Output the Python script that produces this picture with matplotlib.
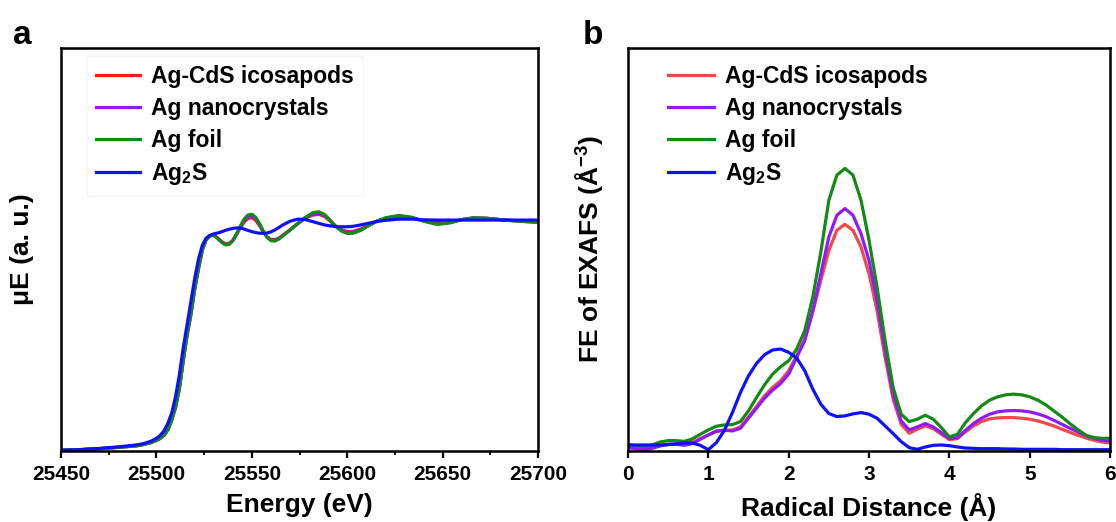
import numpy as np
import matplotlib
matplotlib.use("Agg")
import matplotlib.pyplot as plt
from matplotlib.ticker import MultipleLocator

plt.rcParams['font.family'] = ['Liberation Sans', 'DejaVu Sans']
plt.rcParams['font.weight'] = 'bold'
plt.rcParams['mathtext.fontset'] = 'custom'
plt.rcParams['mathtext.rm'] = 'Liberation Sans:bold'
plt.rcParams['mathtext.it'] = 'Liberation Sans:bold'
plt.rcParams['mathtext.bf'] = 'Liberation Sans:bold'

labels = ["Ag-CdS icosapods", "Ag nanocrystals", "Ag foil", "Ag$_2$S"]
colors_a = ["#ff1a1a", "#8f1aff", "#138a13", "#1010ff"]
colors_b = ["#f24848", "#8f1aff", "#138a13", "#1010ff"]

# panel a: XANES (normalised)
energy = [25450, 25460, 25470, 25480, 25486, 25491, 25494, 25497, 25500, 25502,
          25504, 25506, 25508, 25510, 25512, 25514, 25516, 25518, 25520, 25522,
          25524, 25526, 25528, 25530, 25532, 25534, 25536, 25538, 25540, 25542,
          25544, 25546, 25548, 25550, 25552, 25554, 25556, 25558, 25560, 25562,
          25564, 25566, 25570, 25574, 25578, 25582, 25585, 25588, 25591, 25594,
          25597, 25600, 25603, 25607, 25611, 25615, 25620, 25627, 25634, 25640,
          25647, 25654, 25660, 25666, 25673, 25680, 25690, 25700]
mu_foil = [0.003, 0.006, 0.010, 0.016, 0.020, 0.024, 0.030, 0.036, 0.046, 0.055,
           0.068, 0.092, 0.134, 0.19, 0.27, 0.39, 0.50, 0.59, 0.70, 0.79,
           0.87, 0.915, 0.932, 0.934, 0.922, 0.905, 0.893, 0.894, 0.91, 0.94,
           0.975, 1.005, 1.022, 1.025, 1.012, 0.985, 0.952, 0.925, 0.911, 0.909,
           0.917, 0.930, 0.957, 0.985, 1.012, 1.032, 1.036, 1.025, 1.000, 0.972,
           0.952, 0.942, 0.943, 0.955, 0.975, 0.993, 1.010, 1.020, 1.012, 0.995,
           0.981, 0.988, 1.002, 1.010, 1.008, 1.002, 0.995, 0.990]
mu_icosapods = [0.003, 0.006, 0.010, 0.016, 0.020, 0.024, 0.030, 0.036, 0.046, 0.055,
                0.068, 0.092, 0.134, 0.19, 0.27, 0.39, 0.50, 0.59, 0.70, 0.79,
                0.87, 0.915, 0.932, 0.934, 0.923, 0.908, 0.898, 0.899, 0.912, 0.938,
                0.967, 0.992, 1.007, 1.010, 0.999, 0.976, 0.949, 0.927, 0.916, 0.915,
                0.922, 0.933, 0.958, 0.984, 1.008, 1.022, 1.025, 1.016, 0.996, 0.973,
                0.958, 0.950, 0.951, 0.961, 0.978, 0.994, 1.007, 1.015, 1.009, 0.998,
                0.990, 0.993, 1.002, 1.008, 1.007, 1.002, 0.996, 0.992]
mu_nanocrystals = [0.003, 0.006, 0.010, 0.016, 0.020, 0.024, 0.030, 0.036, 0.046, 0.055,
                   0.068, 0.092, 0.134, 0.19, 0.27, 0.39, 0.50, 0.59, 0.70, 0.79,
                   0.87, 0.915, 0.932, 0.934, 0.922, 0.906, 0.895, 0.896, 0.911, 0.939,
                   0.971, 0.998, 1.014, 1.017, 1.005, 0.980, 0.950, 0.926, 0.913, 0.912,
                   0.919, 0.931, 0.957, 0.984, 1.010, 1.027, 1.031, 1.021, 0.998, 0.972,
                   0.955, 0.946, 0.947, 0.958, 0.976, 0.993, 1.008, 1.017, 1.010, 0.996,
                   0.985, 0.990, 1.002, 1.009, 1.008, 1.002, 0.995, 0.991]
mu_ag2s = [0.003, 0.006, 0.011, 0.018, 0.023, 0.028, 0.034, 0.042, 0.055, 0.068,
           0.088, 0.120, 0.165, 0.235, 0.33, 0.445, 0.545, 0.645, 0.745, 0.83,
           0.89, 0.922, 0.934, 0.940, 0.944, 0.949, 0.955, 0.960, 0.964, 0.966,
           0.965, 0.961, 0.955, 0.950, 0.946, 0.943, 0.943, 0.944, 0.949, 0.957,
           0.967, 0.978, 0.995, 1.004, 1.002, 0.993, 0.986, 0.979, 0.975, 0.972,
           0.971, 0.971, 0.973, 0.979, 0.986, 0.993, 0.999, 1.004, 1.004, 1.001,
           1.000, 1.000, 1.000, 1.000, 1.000, 1.000, 1.000, 1.000]

# panel b: Fourier transform magnitude of EXAFS
r = [0.0, 0.1, 0.2, 0.3, 0.4, 0.5, 0.6, 0.7, 0.8, 0.9,
     1.0, 1.1, 1.2, 1.3, 1.4, 1.5, 1.6, 1.7, 1.8, 1.9,
     2.0, 2.1, 2.2, 2.3, 2.4, 2.5, 2.6, 2.7, 2.8, 2.9,
     3.0, 3.1, 3.2, 3.3, 3.4, 3.5, 3.6, 3.7, 3.8, 3.9,
     4.0, 4.1, 4.2, 4.3, 4.4, 4.5, 4.6, 4.7, 4.8, 4.9,
     5.0, 5.1, 5.2, 5.3, 5.4, 5.5, 5.6, 5.7, 5.8, 5.9, 6.0]
ft_foil = [0.20, 0.15, 0.13, 0.18, 0.27, 0.31, 0.31, 0.29, 0.36, 0.50,
           0.63, 0.74, 0.78, 0.79, 0.88, 1.20, 1.60, 1.98, 2.30, 2.52,
           2.70, 3.05, 3.60, 4.60, 5.95, 7.50, 8.25, 8.45, 8.25, 7.50,
           6.30, 4.90, 3.30, 1.90, 1.10, 0.88, 0.95, 1.07, 0.95, 0.70,
           0.42, 0.50, 0.85, 1.12, 1.35, 1.52, 1.62, 1.68, 1.70, 1.68,
           1.62, 1.52, 1.38, 1.20, 1.02, 0.82, 0.64, 0.47, 0.40, 0.38, 0.38]
ft_nano = [0.10, 0.06, 0.04, 0.08, 0.15, 0.20, 0.20, 0.17, 0.22, 0.35,
           0.48, 0.60, 0.62, 0.60, 0.68, 0.98, 1.28, 1.58, 1.82, 2.02,
           2.30, 2.80, 3.30, 4.20, 5.30, 6.40, 7.05, 7.25, 7.05, 6.50,
           5.70, 4.50, 3.00, 1.70, 0.90, 0.63, 0.72, 0.82, 0.72, 0.55,
           0.37, 0.40, 0.62, 0.82, 0.98, 1.10, 1.17, 1.20, 1.21, 1.20,
           1.17, 1.11, 1.03, 0.92, 0.80, 0.68, 0.57, 0.46, 0.38, 0.32, 0.29]
ft_ico = [0.12, 0.08, 0.06, 0.10, 0.16, 0.20, 0.21, 0.21, 0.26, 0.37,
          0.48, 0.58, 0.62, 0.63, 0.72, 1.02, 1.33, 1.65, 1.90, 2.10,
          2.40, 2.85, 3.35, 4.15, 5.10, 6.00, 6.60, 6.78, 6.60, 6.10,
          5.30, 4.20, 2.80, 1.55, 0.80, 0.53, 0.65, 0.75, 0.67, 0.50,
          0.34, 0.37, 0.57, 0.75, 0.88, 0.96, 0.99, 1.00, 1.00, 0.98,
          0.95, 0.90, 0.83, 0.75, 0.65, 0.56, 0.47, 0.39, 0.32, 0.27, 0.24]
ft_ag2s = [0.18, 0.18, 0.18, 0.18, 0.18, 0.19, 0.21, 0.24, 0.24, 0.17,
           0.04, 0.25, 0.62, 1.15, 1.75, 2.25, 2.62, 2.88, 3.02, 3.05,
           2.95, 2.78, 2.40, 1.85, 1.40, 1.12, 1.03, 1.05, 1.11, 1.15,
           1.10, 0.98, 0.75, 0.52, 0.28, 0.10, 0.05, 0.12, 0.17, 0.18,
           0.16, 0.12, 0.09, 0.08, 0.07, 0.07, 0.07, 0.06, 0.06, 0.05,
           0.05, 0.05, 0.05, 0.05, 0.04, 0.04, 0.04, 0.04, 0.04, 0.04, 0.04]

fig = plt.figure(figsize=(11.16, 5.22), dpi=100)
ax1 = fig.add_axes([0.0547, 0.136, 0.4275, 0.772])
ax2 = fig.add_axes([0.5627, 0.136, 0.432, 0.772])

for y, c, lab in zip([mu_icosapods, mu_nanocrystals, mu_foil, mu_ag2s], colors_a, labels):
    ax1.plot(energy, y, color=c, lw=2.3, label=lab)
ax1.set_xlim(25450, 25700)
ax1.set_ylim(0, 1.745)
ax1.xaxis.set_major_locator(MultipleLocator(50))
ax1.xaxis.set_minor_locator(MultipleLocator(25))
ax1.set_yticks([])
ax1.set_xlabel("Energy (eV)", fontsize=19, fontweight='bold')
ax1.set_ylabel("μE (a. u.)", fontsize=19, fontweight='bold')
ax1.yaxis.set_label_coords(-0.057, 0.5)
ax1.xaxis.set_label_coords(0.5, -0.105)
ax1.legend(loc='upper left', bbox_to_anchor=(0.03, 1.008), fontsize=16.5,
           frameon=True, edgecolor='#f4f4f4', fancybox=False,
           handlelength=1.9, labelspacing=0.38, handletextpad=0.5)

for y, c, lab in zip([ft_ico, ft_nano, ft_foil, ft_ag2s], colors_b, labels):
    ax2.plot(r, y, color=c, lw=2.3, label=lab)
ax2.set_xlim(0, 6)
ax2.set_ylim(0, 12.05)
ax2.xaxis.set_major_locator(MultipleLocator(1))
ax2.set_yticks([])
ax2.set_xlabel("Radical Distance (Å)", fontsize=19, fontweight='bold')
ax2.set_ylabel("FE of EXAFS (Å$^{-3}$)", fontsize=19, fontweight='bold')
ax2.yaxis.set_label_coords(-0.048, 0.5)
ax2.xaxis.set_label_coords(0.5, -0.105)
ax2.legend(loc='upper left', bbox_to_anchor=(0.04, 1.008), fontsize=16.5,
           frameon=False, handlelength=2.0, labelspacing=0.38, handletextpad=0.5)

for ax in (ax1, ax2):
    for s in ax.spines.values():
        s.set_linewidth(1.8)
    ax.tick_params(axis='x', which='major', direction='out', length=5, width=1.6,
                   labelsize=15, pad=5)
    ax.tick_params(axis='x', which='minor', direction='out', length=3, width=1.3)
    for t in ax.get_xticklabels():
        t.set_fontweight('bold')

fig.text(0.012, 0.915, "a", fontsize=24, fontweight='bold')
fig.text(0.522, 0.915, "b", fontsize=24, fontweight='bold')

fig.savefig("out.png", dpi=100)
